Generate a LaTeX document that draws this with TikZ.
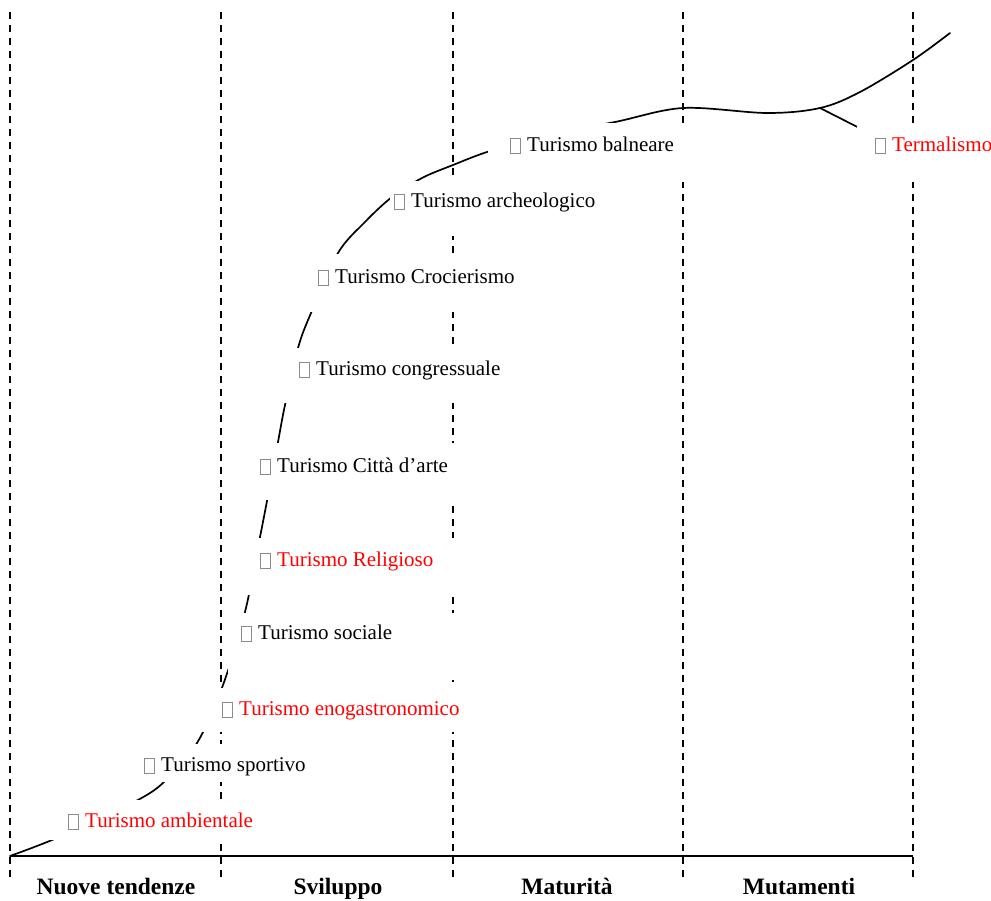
\documentclass[tikz,border=0pt]{standalone}
\usepackage{fontspec}
\setmainfont{Liberation Serif}
\newcommand\missglyph{\raisebox{-2pt}{\color{black!45}\fboxrule=0.9pt\fboxsep=0pt\fbox{\rule{0pt}{14pt}\hspace{9.2pt}}}\hspace{6pt}}
\begin{document}
\begin{tikzpicture}[x=1pt,y=-1pt,
  vline/.style={line width=1.7pt, dash pattern=on 7pt off 6pt},
  axisline/.style={line width=1.7pt},
  curveline/.style={line width=1.7pt, line cap=round},
  cover/.style={fill=white},
  lbl/.style={anchor=base west, inner sep=0pt, font=\fontsize{21}{25}\selectfont},
  redlbl/.style={lbl, text=red},
  phase/.style={anchor=base, inner sep=0pt, font=\bfseries\fontsize{23.5}{27}\selectfont}]
\useasboundingbox (0,0) rectangle (991,900);
% vertical dashed dividers
\foreach \x/\n in {10/a,221/b,453/c,683/d,913/e}{
  \coordinate (top\n) at (\x,12);
  \coordinate (bot\n) at (\x,877);
  \draw[vline] (top\n) -- (bot\n);
}
% axis
\coordinate (ax0) at (10,856);
\coordinate (ax1) at (913,856);
\draw[axisline] (ax0) -- (ax1);
% life-cycle curve
\draw[curveline] plot[smooth, tension=0.55] coordinates {
 (10,856) (52,840) (100,818) (138,800) (164,782) (197,743) (223,685)
 (245,612) (260,537) (267,501) (278,442) (285,405) (298,348) (311,313)
 (338,253) (365,222) (392,197) (422,178) (453,165) (490,151) (550,134)
 (615,122) (683,108) (767,113) (820,108) (860,92) (913,60) (950,33)};
\coordinate (fork) at (820,108);
\coordinate (branchend) at (885,141);
\draw[curveline] (fork) -- (branchend);
% white text-box backgrounds
\fill[cover] (50,800) rectangle (262,840);
\fill[cover] (140,744) rectangle (322,782);
\fill[cover] (200,688) rectangle (485,732);
\fill[cover] (228,613) rectangle (470,680);
\fill[cover] (245,538) rectangle (470,595);
\fill[cover] (255,443) rectangle (470,500);
\fill[cover] (283,348) rectangle (512,403);
\fill[cover] (305,254) rectangle (528,312);
\fill[cover] (390,181) rectangle (605,236);
\fill[cover] (488,123) rectangle (700,182);
\fill[cover] (857,125) rectangle (991,182);
% labels
\node[lbl]    (balneare)  at (510,151) {\missglyph Turismo balneare};
\node[redlbl] (termal)    at (875,151) {\missglyph Termalismo};
\node[lbl]    (archeo)    at (394,207) {\missglyph Turismo archeologico};
\node[lbl]    (crocier)   at (318,283) {\missglyph Turismo Crocierismo};
\node[lbl]    (congress)  at (299,375) {\missglyph Turismo congressuale};
\node[lbl]    (citta)     at (260,472) {\missglyph Turismo Città d’arte};
\node[redlbl] (religioso) at (260,566) {\missglyph Turismo Religioso};
\node[lbl]    (sociale)   at (241,639) {\missglyph Turismo sociale};
\node[redlbl] (enogastro) at (222,715) {\missglyph Turismo enogastronomico};
\node[lbl]    (sportivo)  at (144,771) {\missglyph Turismo sportivo};
\node[redlbl] (ambient)   at (68,827)  {\missglyph Turismo ambientale};
% phase names
\node[phase] (p1) at (116,894) {Nuove tendenze};
\node[phase] (p2) at (338,894) {Sviluppo};
\node[phase] (p3) at (567,894) {Maturità};
\node[phase] (p4) at (799,894) {Mutamenti};
\end{tikzpicture}
\end{document}
